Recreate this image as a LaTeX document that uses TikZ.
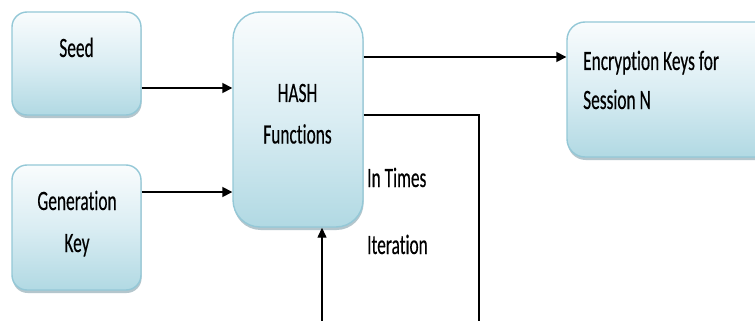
\documentclass[tikz,border=0pt]{standalone}
\usepackage{fontspec}
\newfontfamily\diagfont[FakeStretch=0.62, FakeBold=0.3, Ligatures=NoCommon]{Carlito}
\usetikzlibrary{arrows.meta,shadows}

\definecolor{boxedge}{HTML}{94C8D7}
\definecolor{boxtop}{HTML}{F9FCFD}
\definecolor{boxmid}{HTML}{DAEDF3}
\definecolor{boxbot}{HTML}{B1D9E3}
\definecolor{boxshade}{HTML}{7898A4}

\tikzset{
  procbox/.style={draw=boxedge, line width=1.4pt,
    top color=boxtop, bottom color=boxbot, middle color=boxmid,
    rounded corners=#1, inner sep=0pt,
    drop shadow={shadow xshift=0.6pt, shadow yshift=-3pt, fill=boxshade, opacity=0.55}},
  procbox/.default=15pt,
  txt/.style={font=\diagfont\fontsize{28}{34}\selectfont, inner sep=0pt, text=black},
  flow/.style={line width=1.7pt, -{Triangle[length=10pt,width=10pt]}},
  feedflow/.style={line width=1.3pt, -{Triangle[length=10pt,width=9pt]}},
  loopline/.style={line width=1.2pt},
}

\begin{document}
\begin{tikzpicture}[x=1pt,y=-1pt]
  \clip (0,0) rectangle (755,321);
  \fill[white] (0,0) rectangle (755,321);

  % process boxes
  \node[procbox, minimum width=129pt, minimum height=103pt] (seed) at (76.5,63.5) {};
  \node[procbox, minimum width=129pt, minimum height=125pt] (genkey) at (76.5,227.5) {};
  \node[procbox=27pt, minimum width=130pt, minimum height=215pt] (hash) at (298,119.5) {};
  \node[procbox=18pt, minimum width=213pt, minimum height=135pt] (enc) at (673.5,89.5) {};

  % box texts
  \node[txt, anchor=base] (seedtxt) at (76.5,57) {Seed};
  \node[txt, anchor=base] (gentxt) at (77,210) {Generation};
  \node[txt, anchor=base] (keytxt) at (77,252) {Key};
  \node[txt, anchor=base] (hashtxt) at (297.5,102) {HASH};
  \node[txt, anchor=base] (functxt) at (297.5,143.5) {Functions};
  \node[txt, anchor=base west] (enctxt) at (583,70) {Encryption Keys for};
  \node[txt, anchor=base west] (sesstxt) at (583,109) {Session N};

  % iteration labels
  \node[txt, anchor=base west] (timestxt) at (367,187) {In Times};
  \node[txt, anchor=base west] (itertxt) at (367,254) {Iteration};

  % inputs into the hash stage
  \coordinate (seedout) at ([yshift=-24.5pt]seed.east);
  \draw[flow] (seedout) -- (seedout -| hash.west);
  \coordinate (genout) at ([yshift=35.5pt]genkey.east);
  \draw[flow] (genout) -- (genout -| hash.west);

  % output to the session keys
  \coordinate (hashout) at ([yshift=62.5pt]hash.east);
  \draw[flow] (hashout) -- (hashout -| enc.west);

  % iteration loop
  \coordinate (loopout) at ([yshift=4.5pt]hash.east);
  \coordinate (loopdown) at (479,330);
  \draw[loopline] (loopout) -| (loopdown);
  \coordinate (loopback) at (322,330);
  \draw[feedflow] (loopback) -- (loopback |- hash.south);
\end{tikzpicture}
\end{document}
